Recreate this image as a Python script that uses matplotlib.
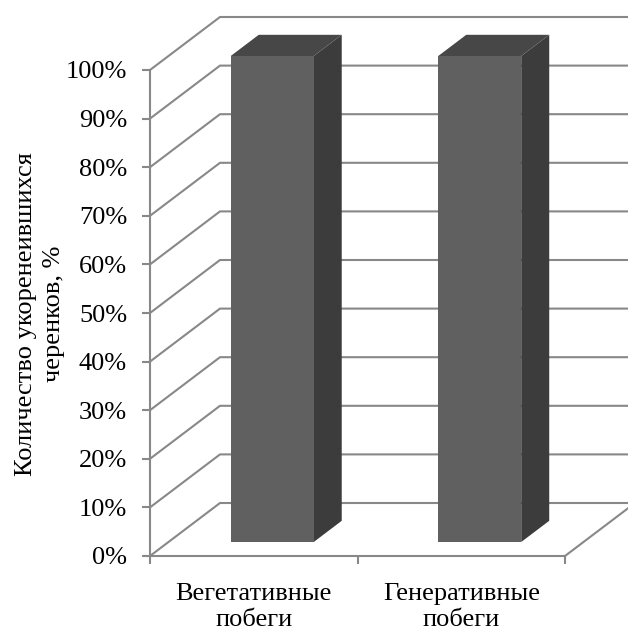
import matplotlib
matplotlib.use("Agg")
import matplotlib.pyplot as plt
from matplotlib.patches import Polygon
from matplotlib.transforms import blended_transform_factory

# Data
categories = ["Вегетативные\nпобеги", "Генеративные\nпобеги"]
values = [100, 100]
yticks = [0, 10, 20, 30, 40, 50, 60, 70, 80, 90, 100]
ytick_labels = [f"{t}%" for t in yticks]
ylabel = "Количество укоренеившихся\nчеренков, %"

plt.rcParams["font.family"] = ["Liberation Serif", "DejaVu Serif"]
FS = 19

W, H = 628, 632
fig = plt.figure(figsize=(W / 100, H / 100), dpi=100)
# front plane of the 3D box: x 150..565 px, y 556..70 px
ax = fig.add_axes([150 / W, (H - 556) / H, 415 / W, 486 / H])
ax.set_xlim(0, 2)
ax.set_ylim(0, 100)

px_x = 415 / 2.0   # pixels per category unit
px_y = 486 / 100.0  # pixels per percent
DX = 70 / px_x      # depth offset in x data units
DY = 53 / px_y      # depth offset in y data units

grid_col = "#888888"
lw = 1.5
XR = 2 + 80 / px_x  # extend past the right figure edge

# walls: gridlines on left side wall and back wall
for t in yticks:
    ax.plot([0, DX, XR], [t, t + DY, t + DY], color=grid_col, lw=lw,
            clip_on=False, zorder=1, solid_capstyle="butt")
# floor front-right edge
ax.plot([2, 2 + DX], [0, DY], color=grid_col, lw=lw, clip_on=False, zorder=1)

# 3D bars
f0, f1 = 0.264, 0.664
bw = 0.4
front_col, top_col, side_col = "#606060", "#474747", "#3c3c3c"
for i, v in enumerate(values):
    c = i + 0.5
    xl, xr = c - bw / 2, c + bw / 2
    front = [(xl + f0 * DX, f0 * DY), (xr + f0 * DX, f0 * DY),
             (xr + f0 * DX, v + f0 * DY), (xl + f0 * DX, v + f0 * DY)]
    top = [(xl + f0 * DX, v + f0 * DY), (xr + f0 * DX, v + f0 * DY),
           (xr + f1 * DX, v + f1 * DY), (xl + f1 * DX, v + f1 * DY)]
    side = [(xr + f0 * DX, f0 * DY), (xr + f1 * DX, f1 * DY),
            (xr + f1 * DX, v + f1 * DY), (xr + f0 * DX, v + f0 * DY)]
    for poly, col in ((side, side_col), (top, top_col), (front, front_col)):
        ax.add_patch(Polygon(poly, closed=True, facecolor=col, edgecolor="none",
                             clip_on=False, zorder=3))

# axes
for s in ("top", "right"):
    ax.spines[s].set_visible(False)
for s in ("left", "bottom"):
    ax.spines[s].set_color(grid_col)
    ax.spines[s].set_linewidth(lw)
    ax.spines[s].set_zorder(2)
ax.patch.set_visible(False)

ax.set_yticks(yticks)
ax.set_yticklabels(ytick_labels, fontsize=FS)
ax.tick_params(axis="y", direction="out", length=5.5, width=lw, color=grid_col,
               pad=11)
ax.set_xticks([0, 1, 2])
ax.set_xticklabels(["", "", ""])
ax.tick_params(axis="x", which="major", direction="out", length=5.5, width=lw,
               color=grid_col)

# category labels, one text per line at fixed baselines
line_gap = 26
xtr = blended_transform_factory(ax.transData, fig.transFigure)
for i, lab in enumerate(categories):
    lines = lab.split("\n")
    for k, ln in enumerate(lines):
        base = 600 + k * line_gap
        ax.text(i + 0.5, 1 - base / H, ln, transform=xtr, ha="center",
                va="baseline", fontsize=FS, clip_on=False)

# rotated axis title
for k, ln in enumerate(ylabel.split("\n")):
    base_x = 32 + k * 28
    fig.text(base_x / W, 1 - 314 / H, ln, rotation=90, rotation_mode="anchor",
             ha="center", va="baseline", fontsize=FS)

fig.savefig("out.png", dpi=100)
